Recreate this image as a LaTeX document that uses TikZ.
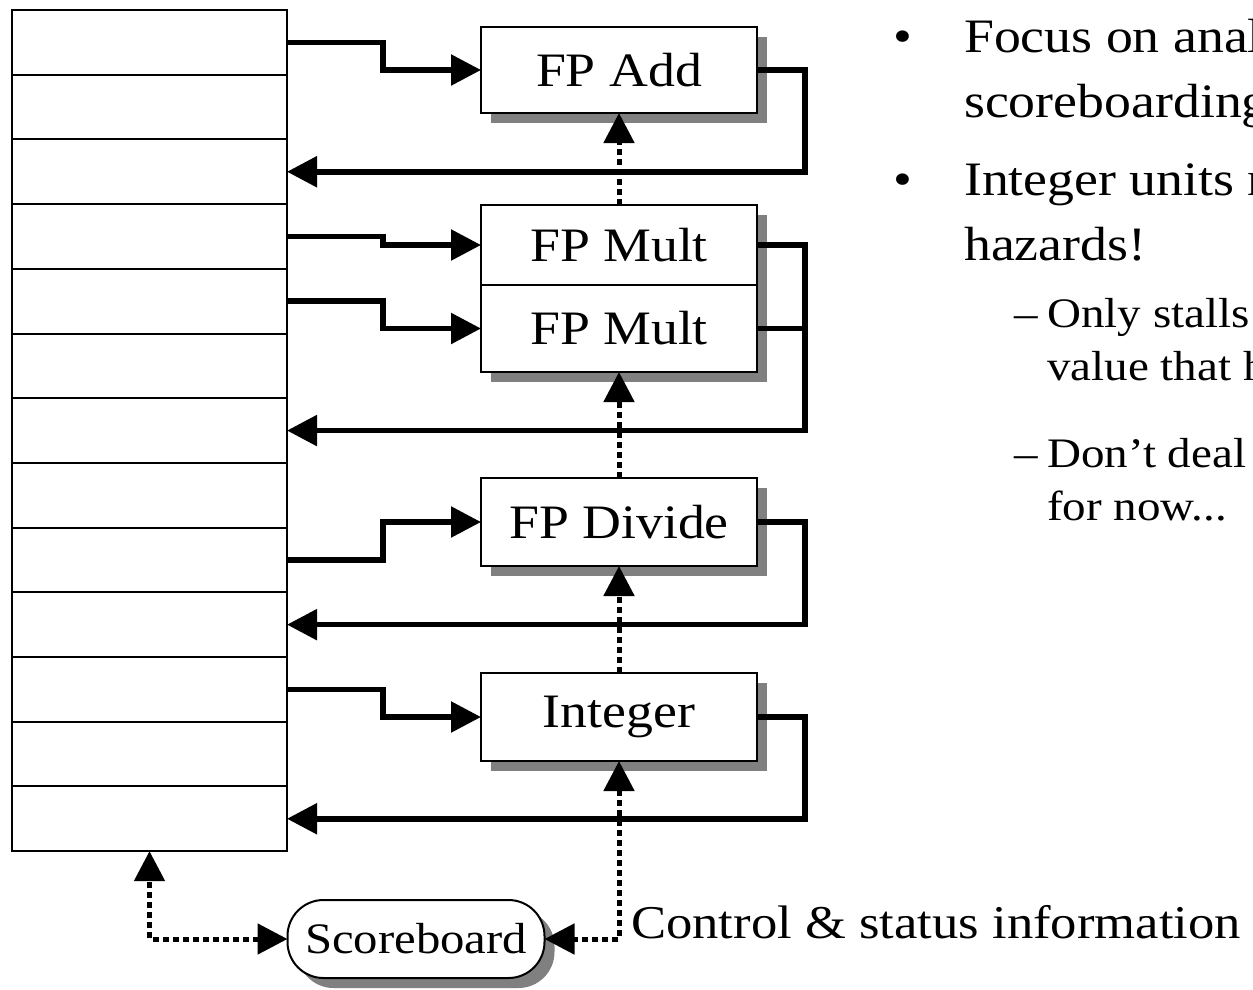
\documentclass[tikz,border=0pt]{standalone}
\usepackage{fontspec}
\setmainfont{Liberation Serif}[FakeStretch=1.12]
\usetikzlibrary{arrows.meta,shadows}

\definecolor{shadowgray}{HTML}{808080}
\newcommand{\bigfont}{\fontsize{48}{58}\selectfont}
\newcommand{\infofont}{\fontsize{47}{56}\selectfont}
\newcommand{\subfont}{\fontsize{42}{50}\selectfont}
\newcommand{\sbfont}{\fontsize{43.5}{52}\selectfont}

\tikzset{
  cell/.style={draw, line width=2pt, minimum width=275pt, minimum height=64.7pt,
    inner sep=0pt, outer sep=0pt},
  unit/.style={draw, fill=white, line width=2pt, minimum width=276pt, inner sep=0pt,
    outer sep=0pt, font=\bigfont,
    drop shadow={shadow xshift=10pt, shadow yshift=-10pt, fill=shadowgray, opacity=1}},
  bus/.style={line width=5.5pt, -{Triangle[length=30pt,width=30pt]}},
  ctrl/.style={line width=5pt, dash pattern=on 6pt off 4pt,
    -{Triangle[length=30pt,width=30pt]}},
  txt/.style={inner sep=0pt, anchor=base west},
}

\begin{document}
\begin{tikzpicture}[x=1pt, y=-1pt]
      \clip (0,0) rectangle (1253,989);
      \fill[white] (0,0) rectangle (1253,989);
      % Define nodes
      \foreach \i in {1,...,13}
        \node[cell] (r\i) at (149.5, {42.35+(\i-1)*64.7}) {};
      \node[unit, minimum height=86pt] (add)   at (619, 70)    {FP Add};
      \node[unit, minimum height=80pt] (mult1) at (619, 245)   {FP Mult};
      \node[unit, minimum height=87pt] (mult2) at (619, 328.5) {FP Mult};
      \node[unit, minimum height=88pt] (div)   at (619, 522)   {FP Divide};
      \node[unit, minimum height=88pt] (int)   at (619, 717)   {Integer};
      \node[unit, minimum width=257pt, minimum height=78pt, rounded corners=36pt,
        font=\sbfont] (sb) at (416, 939) {Scoreboard};
      \node[txt, font=\infofont] (info) at (631, 938) {Control \& status information};
      % Bullets
      \node[txt, font=\bigfont] (d1) at (893, 52)  {•};
      \node[txt, font=\bigfont] (l1) at (964, 52)  {Focus on anal};
      \node[txt, font=\bigfont] (l2) at (964, 117) {scoreboarding};
      \node[txt, font=\bigfont] (d2) at (893, 195) {•};
      \node[txt, font=\bigfont] (l3) at (964, 195) {Integer units n};
      \node[txt, font=\bigfont] (l4) at (964, 260) {hazards!};
      \node[txt, font=\subfont] (d3) at (1014, 327) {–};
      \node[txt, font=\subfont] (l5) at (1047, 327) {Only stalls};
      \node[txt, font=\subfont] (l6) at (1047, 380) {value that h};
      \node[txt, font=\subfont] (d4) at (1014, 467) {–};
      \node[txt, font=\subfont] (l7) at (1047, 467) {Don’t deal};
      \node[txt, font=\subfont] (l8) at (1047, 520) {for now...};
      % Connect nodes
      \draw[bus] (r1.east)  -- ++(96,0) |- (add.west);
      \draw[bus] (r4.east)  -- ++(96,0) |- (mult1.west);
      \draw[bus] (r5.east)  -- ++(96,0) |- (mult2.west);
      \draw[bus] (r9.east)  -- ++(96,0) |- (div.west);
      \draw[bus] (r11.east) -- ++(96,0) |- (int.west);
      \draw[bus] (add.east)   -- ++(48,0) |- (r3.east);
      \draw[bus] (mult1.east) -- ++(48,0) |- (r7.east);
      \draw[line width=5.5pt] (mult2.east) -- ++(48,0);
      \draw[bus] (div.east)   -- ++(48,0) |- (r10.east);
      \draw[bus] (int.east)   -- ++(48,0) |- (r13.east);
      \draw[ctrl] (mult1.north) -- (add.south);
      \draw[ctrl] (div.north)   -- (mult2.south);
      \draw[ctrl] (int.north)   -- (div.south);
      \draw[ctrl, {Triangle[length=30pt,width=30pt]}-{Triangle[length=30pt,width=30pt]}]
        (int.south) |- (sb.east);
      \draw[ctrl, {Triangle[length=30pt,width=30pt]}-{Triangle[length=30pt,width=30pt]}]
        (sb.west) -| (r13.south);
    \end{tikzpicture}
\end{document}
